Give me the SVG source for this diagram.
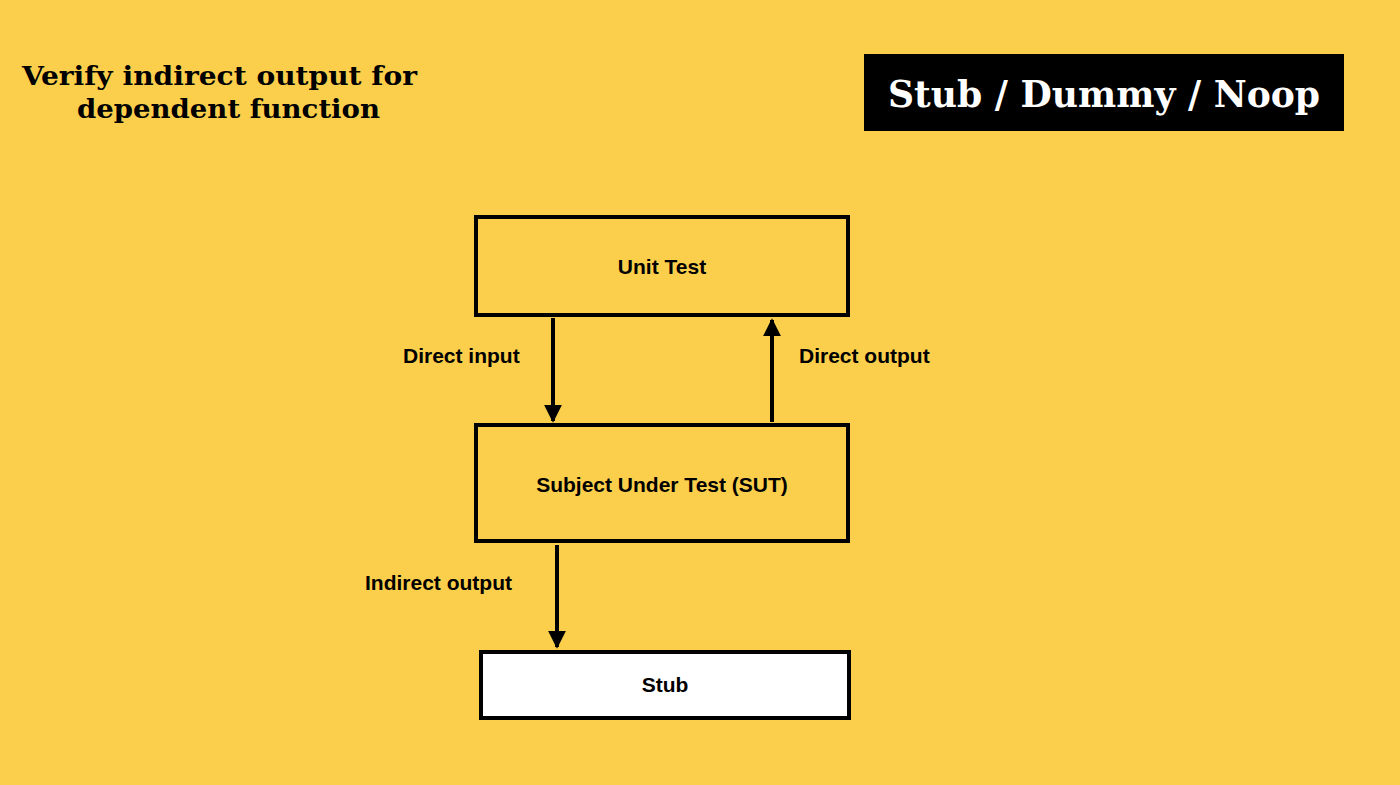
<svg xmlns="http://www.w3.org/2000/svg" width="1400" height="785" viewBox="0 0 1400 785">
<style>
.box{stroke:#000;stroke-width:4}
.lbl{font-family:"Liberation Sans",Arial,sans-serif;font-weight:bold;font-size:21px;fill:#000}
.ttl{font-family:"DejaVu Serif",serif;font-weight:bold;font-stretch:condensed}
.ln{stroke:#000;stroke-width:4;fill:none}
</style>
<defs><marker id="ah" viewBox="0 0 10 10" refX="9" refY="5" markerWidth="4.5" markerHeight="4.5" orient="auto" markerUnits="strokeWidth"><path d="M0,0L10,5L0,10z" fill="#000"/></marker></defs>
<rect width="1400" height="785" fill="#FBCF4B"/>
<g id="title"><text class="ttl" x="22" y="85" font-size="26" textLength="395" lengthAdjust="spacingAndGlyphs">Verify indirect output for</text>
<text class="ttl" x="77" y="118" font-size="26" textLength="303" lengthAdjust="spacingAndGlyphs">dependent function</text></g>
<g id="badge"><rect x="864" y="54" width="480" height="77" fill="#000"/>
<text class="ttl" x="1104" y="107" font-size="37" fill="#fff" text-anchor="middle" textLength="432" lengthAdjust="spacingAndGlyphs">Stub / Dummy / Noop</text></g>
<g id="unit"><rect class="box" x="476" y="217" width="372" height="98" fill="none"/><text class="lbl" x="662" y="274" text-anchor="middle">Unit Test</text></g>
<g id="sut"><rect class="box" x="476" y="425" width="372" height="116" fill="none"/><text class="lbl" x="662" y="492" text-anchor="middle">Subject Under Test (SUT)</text></g>
<g id="stub"><rect class="box" x="481" y="652" width="368" height="66" fill="#fff"/><text class="lbl" x="665" y="692" text-anchor="middle">Stub</text></g>
<g id="connectors">
<line class="ln" x1="553" y1="318" x2="553" y2="421" marker-end="url(#ah)"/>
<line class="ln" x1="772" y1="422" x2="772" y2="320" marker-end="url(#ah)"/>
<line class="ln" x1="557" y1="545" x2="557" y2="647" marker-end="url(#ah)"/>
<text class="lbl" x="403" y="363">Direct input</text>
<text class="lbl" x="799" y="363">Direct output</text>
<text class="lbl" x="365" y="590">Indirect output</text>
</g>
</svg>
